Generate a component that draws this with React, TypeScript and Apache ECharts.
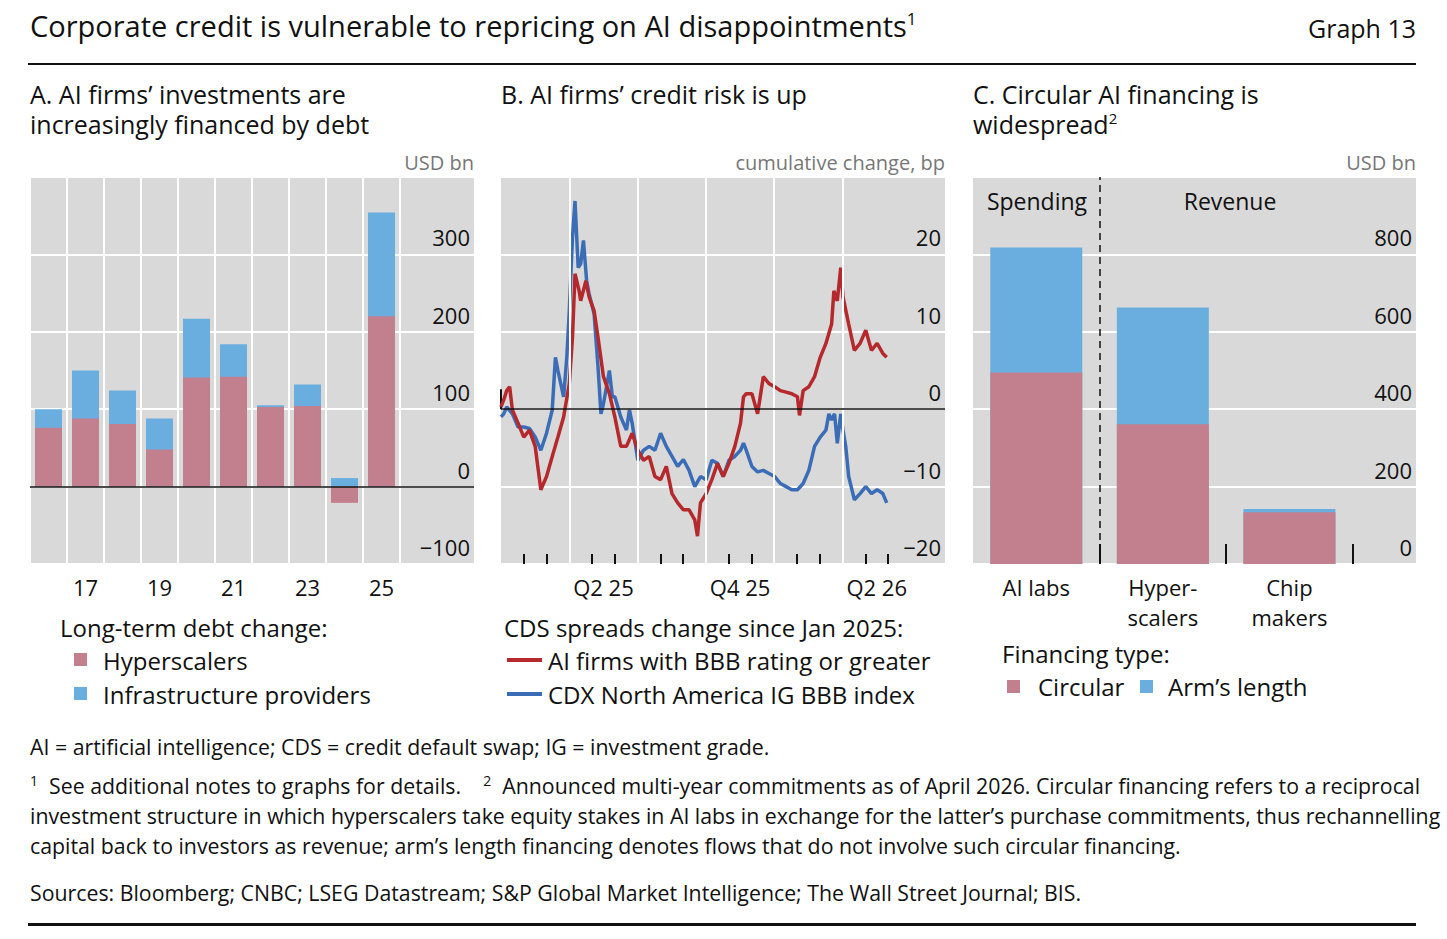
import * as echarts from "echarts";
import { useEffect, useRef } from "react";

// Panel A: long-term debt change, USD bn
const yearsA = ["16", "17", "18", "19", "20", "21", "22", "23", "24", "25"];
const hyperA = [76, 88, 81, 48, 141, 142, 103, 104, -21, 220];
const infraA = [24, 62, 43, 40, 76, 42, 2, 28, 11, 134];

// Panel B: CDS spread change since Jan 2025, bp (x = months since 1 Jan 2025)
const aiFirms: [number, number][] = [
	[0, 0.3], [0.12, 1.2], [0.25, 2.4], [0.38, 2.9], [0.5, -0.1], [0.75, -1.8], [1.0, -3.6],
	[1.25, -2.7], [1.5, -4.8], [1.75, -10.4], [2.0, -8.7], [2.25, -6.1], [2.5, -3.6],
	[2.75, -1.0], [3.0, 3.3], [3.14, 9.3], [3.25, 17.5], [3.43, 15.3], [3.5, 14.0],
	[3.73, 16.6], [3.87, 14.5], [4.09, 12.7], [4.26, 9.3], [4.5, 4.2], [4.76, 2.0],
	[5.0, -1.0], [5.26, -4.8], [5.51, -4.8], [5.76, -3.1], [6.01, -5.3], [6.26, -6.6],
	[6.51, -6.1], [6.76, -8.7], [7.01, -9.1], [7.26, -7.4], [7.51, -10.9], [7.76, -12.1],
	[8.01, -13.0], [8.26, -13.0], [8.51, -14.3], [8.63, -16.4], [8.76, -12.1], [9.01, -10.9],
	[9.26, -9.1], [9.51, -7.0], [9.76, -8.7], [10.01, -7.0], [10.27, -4.8], [10.52, -1.8],
	[10.65, 1.6], [10.77, 2.0], [11.02, 2.0], [11.27, -0.6], [11.52, 4.2], [11.77, 3.3],
	[12.02, 2.9], [12.27, 2.4], [12.52, 2.2], [12.77, 2.0], [13.02, 1.6], [13.11, -0.8],
	[13.27, 2.4], [13.52, 2.9], [13.77, 4.2], [14.02, 6.7], [14.27, 8.5], [14.52, 11.0],
	[14.62, 15.3], [14.77, 14.0], [14.92, 18.3], [15.02, 14.5], [15.27, 11.0], [15.52, 7.6],
	[15.77, 8.5], [16.02, 10.2], [16.27, 7.6], [16.52, 8.5], [16.77, 7.2], [16.94, 6.7],
];
const cdxIndex: [number, number][] = [
	[0, -1.0], [0.12, -0.6], [0.25, 0.3], [0.5, -0.6], [0.75, -2.3], [1.0, -2.3],
	[1.25, -2.5], [1.5, -3.6], [1.75, -5.3], [2.0, -3.1], [2.25, -0.1], [2.39, 6.7],
	[2.5, 5.0], [2.75, 1.6], [2.89, 6.7], [3.0, 12.7], [3.14, 22.2], [3.25, 26.9],
	[3.39, 18.3], [3.5, 18.8], [3.62, 21.8], [3.76, 16.6], [3.87, 14.9], [4.09, 12.3],
	[4.26, 5.5], [4.39, -0.6], [4.5, 0.7], [4.76, 5.0], [4.89, 1.6], [5.0, 1.6],
	[5.26, -1.0], [5.51, -2.7], [5.64, -0.1], [5.76, -1.8], [6.01, -6.6], [6.26, -5.3],
	[6.51, -4.8], [6.76, -5.3], [7.01, -3.1], [7.26, -4.8], [7.51, -6.1], [7.76, -7.4],
	[8.01, -6.5], [8.26, -7.9], [8.51, -10.0], [8.76, -8.7], [9.01, -9.1], [9.26, -6.6],
	[9.51, -7.0], [9.76, -8.7], [10.01, -6.6], [10.27, -6.1], [10.52, -5.3], [10.65, -4.4],
	[10.77, -5.3], [11.02, -7.4], [11.27, -8.1], [11.52, -7.9], [11.77, -8.3], [12.02, -8.7],
	[12.27, -9.6], [12.52, -10.0], [12.77, -10.4], [13.02, -10.4], [13.27, -9.6], [13.52, -7.9],
	[13.77, -4.8], [14.02, -3.6], [14.27, -2.7], [14.4, -0.6], [14.52, -1.4], [14.65, -0.6],
	[14.77, -4.4], [14.92, -0.6], [15.02, -2.7], [15.14, -4.8], [15.27, -8.7], [15.52, -11.7],
	[15.77, -10.9], [16.02, -10.0], [16.27, -10.9], [16.52, -10.4], [16.77, -10.9], [16.94, -12.1],
];
const quarterTicksB = [0, 3, 6, 9, 12, 15];
const monthTicksB = [1, 2, 4, 5, 7, 8, 10, 11, 13, 14, 16, 17];
const quarterLabelsB: Record<string, string> = { "4.5": "Q2 25", "10.5": "Q4 25", "16.5": "Q2 26" };

// Panel C: AI financing, USD bn
const groupsC = ["AI labs", "Hyper-\nscalers", "Chip\nmakers"];
const circularC = [495, 361, 134];
const armsLengthC = [323, 302, 8];

const PINK = "#c27f8e";
const LIGHTBLUE = "#6aaee0";
const RED = "#b5282c";
const BLUE = "#3b6db6";
const BG = "#d9d9d9";
const FONT = "'Open Sans', 'Noto Sans', sans-serif";
const NOTE = 21.3;
const minus = (v: number) => String(v).replace("-", "\u2212");

const txt = (x: number, y: number, text: string, size: number, extra: any = {}) => ({
	type: "text",
	x,
	y,
	style: { text, fontSize: size, fontFamily: FONT, fill: "#111", verticalAlign: "middle", ...extra },
});

export default function App() {
	const chartRef = useRef<HTMLDivElement>(null);

	useEffect(() => {
		if (!chartRef.current) return;
		document.body.style.margin = "0";
		const chart = echarts.init(chartRef.current, null, { renderer: "svg" });

		const gridBase = { top: 177, height: 387, show: true, backgroundColor: BG, borderWidth: 0 };
		const yBase = (min: number, max: number, interval: number, gridIndex: number) => ({
			type: "value",
			gridIndex,
			min,
			max,
			interval,
			position: "right",
			axisLine: { show: false },
			axisTick: { show: false },
			splitLine: { lineStyle: { color: "#fff", width: 2 } },
			axisLabel: {
				inside: true,
				margin: 4,
				verticalAlign: "bottom",
				padding: [0, 0, 6, 0],
				fontSize: 22,
				fontFamily: FONT,
				color: "#111",
				formatter: (v: number) => (v === max ? "" : minus(v)),
			},
		});
		const tickAxis = (gridIndex: number, min: number, max: number, ticks: number[], len: number, labels?: number[], fmt?: (v: number) => string) => ({
			type: "value",
			gridIndex,
			min,
			max,
			position: "bottom",
			axisLine: { show: false },
			splitLine: { show: false },
			axisTick: { inside: true, length: len, customValues: ticks, lineStyle: { color: "#111", width: 2 } },
			axisLabel: labels
				? { customValues: labels, formatter: fmt, fontSize: 22, fontFamily: FONT, color: "#111", margin: 8, lineHeight: 30, verticalAlign: "top" }
				: { show: false },
		});
		const vLines = (xs: number[], color: string, type: any = "solid", width = 2) => ({
			silent: true,
			symbol: "none",
			label: { show: false },
			lineStyle: { color, type, width },
			data: xs.map((x) => ({ xAxis: x })),
		});
		const zeroLine = {
			silent: true,
			symbol: "none",
			label: { show: false },
			lineStyle: { color: "#111", type: "solid", width: 1.5 },
			data: [{ yAxis: 0 }],
		};
		// stacked top for the back bar: positive part of the first series plus the second
		const stackTop = (a: number[], b: number[]) => a.map((v, i) => Math.max(v, 0) + b[i]);

		chart.setOption({
			animation: false,
			grid: [
				{ ...gridBase, left: 30, width: 444 },
				{ ...gridBase, left: 501, width: 444 },
				{ ...gridBase, left: 973, width: 443 },
			],
			xAxis: [
				tickAxis(0, 0, 12, [0, 1, 2, 3, 4, 5, 6, 7, 8, 9, 10], 20, [1.5, 3.5, 5.5, 7.5, 9.5], (v) => yearsA[Math.round(v - 0.5)]),
				tickAxis(1, 0, 19.5, quarterTicksB, 20, [4.5, 10.5, 16.5], (v) => quarterLabelsB[String(v)]),
				tickAxis(1, 0, 19.5, monthTicksB, 10),
				tickAxis(2, 0, 3.5, [1, 2, 3], 20, [0.5, 1.5, 2.5], (v) => groupsC[Math.round(v - 0.5)]),
			],
			yAxis: [yBase(-100, 400, 100, 0), yBase(-20, 30, 10, 1), yBase(0, 1000, 200, 2)],
			series: [
				{
					type: "line",
					xAxisIndex: 0,
					yAxisIndex: 0,
					data: [],
					z: 1,
					markLine: vLines([0, 1, 2, 3, 4, 5, 6, 7, 8, 9, 10], "#fff"),
				},
				{
					name: "Infrastructure providers",
					type: "bar",
					xAxisIndex: 0,
					yAxisIndex: 0,
					barWidth: 27,
					barGap: "-100%",
					itemStyle: { color: LIGHTBLUE },
					data: stackTop(hyperA, infraA).map((v, i) => [i + 0.5, v]),
				},
				{
					name: "Hyperscalers",
					type: "bar",
					xAxisIndex: 0,
					yAxisIndex: 0,
					barWidth: 27,
					barGap: "-100%",
					itemStyle: { color: PINK },
					data: hyperA.map((v, i) => [i + 0.5, v]),
					markLine: zeroLine,
				},
				{
					type: "line",
					xAxisIndex: 1,
					yAxisIndex: 1,
					data: [],
					z: 1,
					markLine: vLines(quarterTicksB.slice(1), "#fff"),
				},
				{
					type: "line",
					xAxisIndex: 1,
					yAxisIndex: 1,
					data: cdxIndex,
					showSymbol: false,
					lineStyle: { color: BLUE, width: 3.5 },
					z: 3,
				},
				{
					type: "line",
					xAxisIndex: 1,
					yAxisIndex: 1,
					data: aiFirms,
					showSymbol: false,
					lineStyle: { color: RED, width: 3.5 },
					z: 4,
					markLine: zeroLine,
				},
				{
					name: "Arm's length",
					type: "bar",
					xAxisIndex: 3,
					yAxisIndex: 2,
					barWidth: 92,
					barGap: "-100%",
					itemStyle: { color: LIGHTBLUE },
					data: stackTop(circularC, armsLengthC).map((v, i) => [i + 0.5, v]),
					markLine: vLines([1], "#111", [7, 5], 1.5),
				},
				{
					name: "Circular",
					type: "bar",
					xAxisIndex: 3,
					yAxisIndex: 2,
					barWidth: 92,
					barGap: "-100%",
					itemStyle: { color: PINK },
					data: circularC.map((v, i) => [i + 0.5, v]),
				},
			],
			graphic: [
				{
					type: "text",
					x: 30,
					y: 25,
					style: {
						text: "Corporate credit is vulnerable to repricing on AI disappointments{s|1}",
						rich: { s: { fontSize: 17, verticalAlign: "top", padding: [0, 0, 14, 0], fontFamily: FONT } },
						fontSize: 29,
						fontFamily: FONT,
						fill: "#111",
						verticalAlign: "middle",
					},
				},
				txt(1416, 28, "Graph 13", 25, { align: "right" }),
				{ type: "rect", shape: { x: 28, y: 63, width: 1388, height: 2 }, style: { fill: "#111" } },
				{ type: "rect", shape: { x: 28, y: 923, width: 1388, height: 3 }, style: { fill: "#111" } },

				txt(30, 94, "A. AI firms\u2019 investments are", 25),
				txt(30, 124, "increasingly financed by debt", 25),
				txt(474, 162, "USD bn", 20, { align: "right", fill: "#777" }),
				txt(501, 94, "B. AI firms\u2019 credit risk is up", 25),
				txt(945, 162, "cumulative change, bp", 20, { align: "right", fill: "#777" }),
				txt(973, 94, "C. Circular AI financing is", 25),
				{
					type: "text",
					x: 973,
					y: 124,
					style: {
						text: "widespread{s|2}",
						rich: { s: { fontSize: 15, verticalAlign: "top", padding: [0, 0, 12, 0], fontFamily: FONT } },
						fontSize: 25,
						fontFamily: FONT,
						fill: "#111",
						verticalAlign: "middle",
					},
				},
				txt(1416, 162, "USD bn", 20, { align: "right", fill: "#777" }),
				txt(1037, 201, "Spending", 23, { align: "center" }),
				txt(1230, 201, "Revenue", 23, { align: "center" }),

				txt(60, 627, "Long-term debt change:", 24),
				{ type: "rect", shape: { x: 74, y: 653, width: 13, height: 13 }, style: { fill: PINK } },
				txt(103, 660, "Hyperscalers", 24),
				{ type: "rect", shape: { x: 74, y: 687, width: 13, height: 13 }, style: { fill: LIGHTBLUE } },
				txt(103, 694, "Infrastructure providers", 24),

				txt(504, 627, "CDS spreads change since Jan 2025:", 24),
				{ type: "rect", shape: { x: 507, y: 658, width: 35, height: 4 }, style: { fill: RED } },
				txt(548, 660, "AI firms with BBB rating or greater", 24),
				{ type: "rect", shape: { x: 507, y: 692, width: 35, height: 4 }, style: { fill: BLUE } },
				txt(548, 694, "CDX North America IG BBB index", 24),

				txt(1002, 653, "Financing type:", 24),
				{ type: "rect", shape: { x: 1007, y: 680, width: 13, height: 13 }, style: { fill: PINK } },
				txt(1038, 686, "Circular", 24),
				{ type: "rect", shape: { x: 1140, y: 680, width: 13, height: 13 }, style: { fill: LIGHTBLUE } },
				txt(1168, 686, "Arm\u2019s length", 24),

				txt(30, 746, "AI = artificial intelligence; CDS = credit default swap; IG = investment grade.", NOTE),
				{
					type: "text",
					x: 30,
					y: 785,
					style: {
						text: "{s|1}  See additional notes to graphs for details.    {s|2}  Announced multi-year commitments as of April 2026. Circular financing refers to a reciprocal",
						rich: { s: { fontSize: 14, verticalAlign: "top", padding: [0, 0, 10, 0], fontFamily: FONT } },
						fontSize: NOTE,
						fontFamily: FONT,
						fill: "#111",
						verticalAlign: "middle",
					},
				},
				txt(30, 815, "investment structure in which hyperscalers take equity stakes in AI labs in exchange for the latter\u2019s purchase commitments, thus rechannelling", NOTE),
				txt(30, 845, "capital back to investors as revenue; arm\u2019s length financing denotes flows that do not involve such circular financing.", NOTE),
				txt(30, 892, "Sources: Bloomberg; CNBC; LSEG Datastream; S&P Global Market Intelligence; The Wall Street Journal; BIS.", NOTE),
			],
		});

		return () => chart.dispose();
	}, []);

	return <div ref={chartRef} style={{ width: 1447, height: 939 }} />;
}
